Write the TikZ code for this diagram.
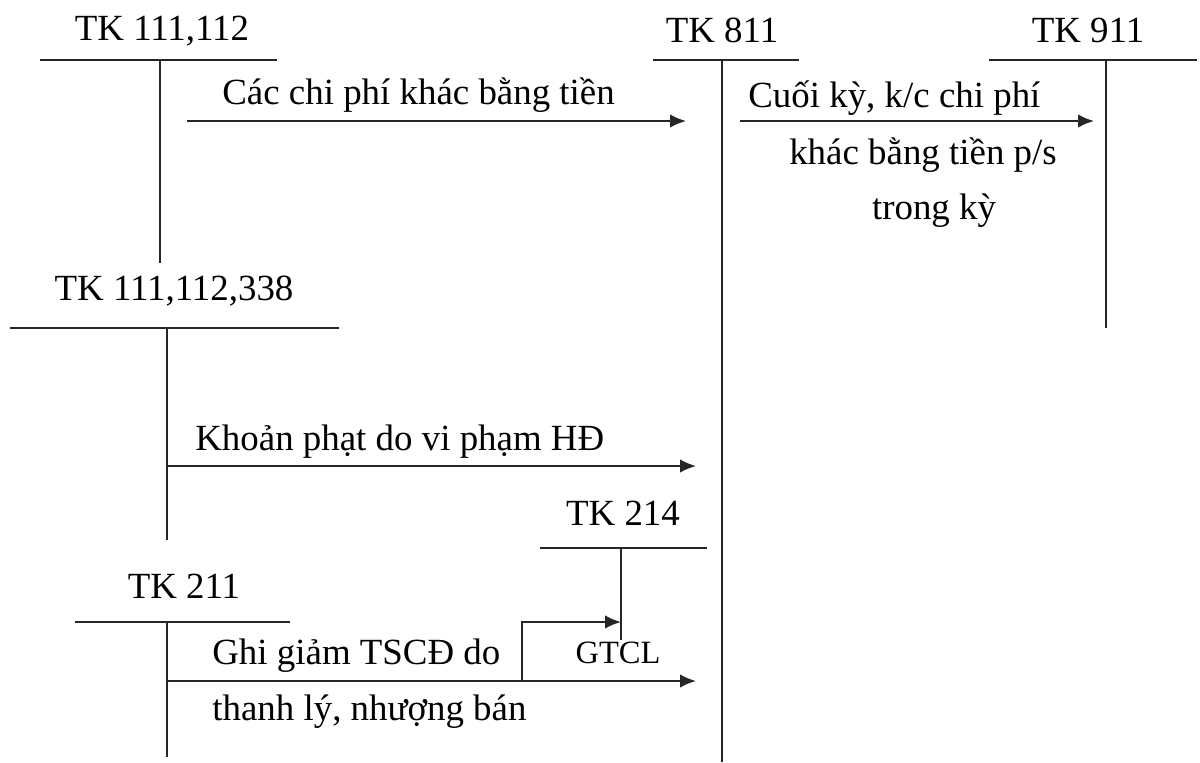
\documentclass[tikz,border=0pt]{standalone}
\usepackage{fontspec}
\setmainfont{Liberation Serif}
\usetikzlibrary{arrows.meta}

\begin{document}
\begin{tikzpicture}[x=0.02cm,y=-0.02cm,>={Latex[length=3.2mm,width=2.7mm]},
    font=\fontsize{21}{25}\selectfont]
  \tikzset{
    acct/.style={
      anchor=base,
      inner sep=0pt},
    lbl/.style={
      anchor=base west,
      inner sep=0pt},
    tline/.style={
      draw=black!85,
      line width=1.1pt},
    flow/.style={
      draw=black!85,
      line width=1.1pt,
      ->}}

  \useasboundingbox (0,0) rectangle (1200,762);

  % account titles
  \node[acct] (tk111) at (162,40) {TK 111,112};
  \node[acct] (tk811) at (722,42) {TK 811};
  \node[acct] (tk911) at (1088,42) {TK 911};
  \node[acct] (tk338) at (174,300) {TK 111,112,338};
  \node[acct] (tk214) at (623,525) {TK 214};
  \node[acct] (tk211) at (184,598) {TK 211};

  % T shapes
  \coordinate (l111) at (40,60);   \coordinate (r111) at (277,60);
  \coordinate (t111) at (160,60);  \coordinate (b111) at (160,263);
  \coordinate (l811) at (653,60);  \coordinate (r811) at (799,60);
  \coordinate (t811) at (722,60);  \coordinate (b811) at (722,762);
  \coordinate (l911) at (989,60);  \coordinate (r911) at (1197,60);
  \coordinate (t911) at (1106,60); \coordinate (b911) at (1106,328);
  \coordinate (l338) at (10,328);  \coordinate (r338) at (339,328);
  \coordinate (t338) at (167,328); \coordinate (b338) at (167,540);
  \coordinate (l214) at (540,548); \coordinate (r214) at (707,548);
  \coordinate (t214) at (621,548); \coordinate (b214) at (621,640);
  \coordinate (l211) at (75,622);  \coordinate (r211) at (290,622);
  \coordinate (t211) at (167,622); \coordinate (b211) at (167,757);

  \draw[tline] (l111) -- (r111) (t111) -- (b111);
  \draw[tline] (l811) -- (r811) (t811) -- (b811);
  \draw[tline] (l911) -- (r911) (t911) -- (b911);
  \draw[tline] (l338) -- (r338) (t338) -- (b338);
  \draw[tline] (l214) -- (r214) (t214) -- (b214);
  \draw[tline] (l211) -- (r211) (t211) -- (b211);

  % flows
  \coordinate (s1) at (187,121);  \coordinate (e1) at (686,121);
  \coordinate (s2) at (740,121);  \coordinate (e2) at (1094,121);
  \coordinate (s3) at (167,466);  \coordinate (e3) at (696,466);
  \coordinate (s4) at (167,681);  \coordinate (e4) at (696,681);
  \coordinate (brk) at (522,681); \coordinate (e5) at (621,622);

  \draw[flow] (s1) -- (e1);
  \draw[flow] (s2) -- (e2);
  \draw[flow] (s3) -- (e3);
  \draw[flow] (s4) -- (e4);
  \draw[flow] (brk) |- (e5);

  \node[lbl] (f1) at (222,104) {Các chi phí khác bằng tiền};
  \node[lbl] (f2a) at (748,107) {Cuối kỳ, k/c chi phí};
  \node[acct] (f2b) at (923,164) {khác bằng tiền p/s};
  \node[acct] (f2c) at (934,219) {trong kỳ};
  \node[lbl] (f3) at (195,450) {Khoản phạt do vi phạm HĐ};
  \node[lbl] (f4a) at (212,664) {Ghi giảm TSCĐ do};
  \node[lbl] (f4b) at (212,720) {thanh lý, nhượng bán};
  \node[acct, font=\fontsize{18.5}{22}\selectfont] (gtcl) at (618,663) {GTCL};

\end{tikzpicture}
\end{document}
